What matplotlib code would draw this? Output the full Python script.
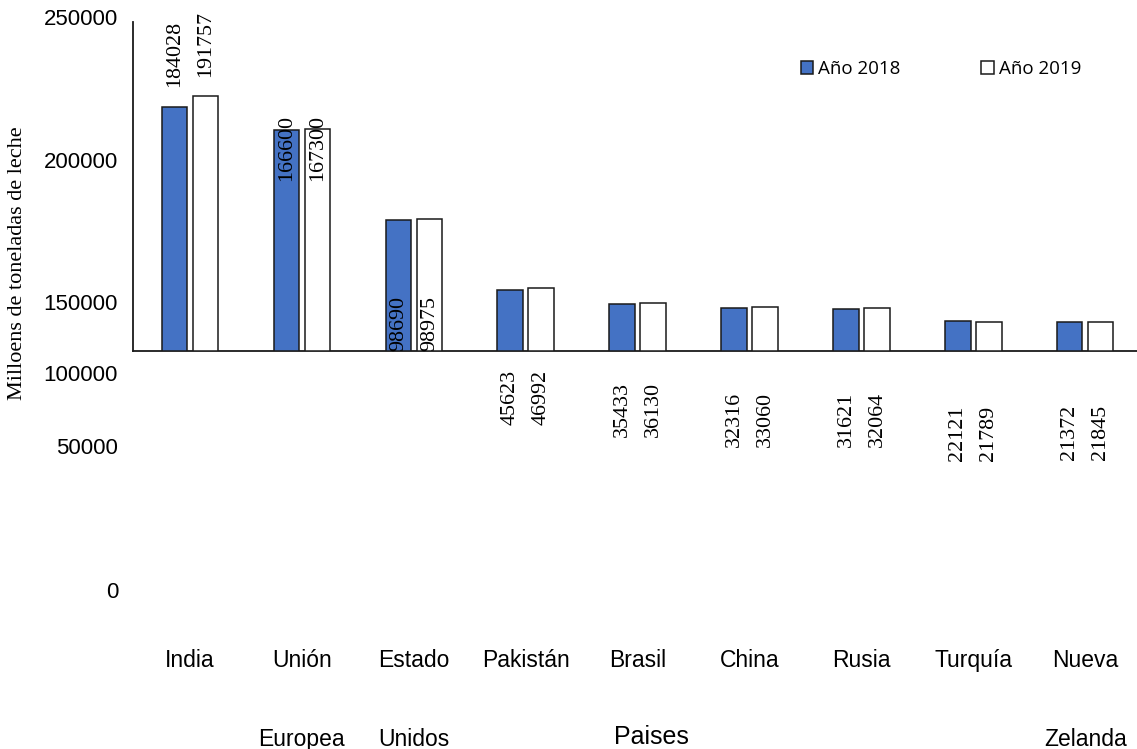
import numpy as np
import matplotlib.pyplot as plt

# Producción de leche por país (datos 2018 y 2019)
paises = ['India', 'Unión\nEuropea', 'Estado\nUnidos', 'Pakistán', 'Brasil',
          'China', 'Rusia', 'Turquía', 'Nueva\nZelanda']
anio_2018 = [184028, 166600, 98690, 45623, 35433, 32316, 31621, 22121, 21372]
anio_2019 = [191757, 167300, 98975, 46992, 36130, 33060, 32064, 21789, 21845]

# etiquetas del eje y y su ubicación vertical (en unidades de datos)
ytick_text = ['250000', '200000', '150000', '100000', '50000', '0']
ytick_pos = [249800, 141500, 35000, -18500, -73800, -182500]

# anclaje vertical de las etiquetas de valor por país: (y, alineación)
label_anchor = [(None, 'bottom'), (177700, 'top'), (0, 'bottom'),
                (-56000, 'bottom'), (-65000, 'bottom'), (-72600, 'bottom'),
                (-72600, 'bottom'), (-83200, 'bottom'), (-82500, 'bottom')]

x = np.arange(len(paises))
w = 0.228
off = 0.1385

fig = plt.figure(figsize=(11.37, 7.49), dpi=100)
ax = fig.add_axes([133.3 / 1137, 1 - 350.7 / 749, 1 - 133.3 / 1137, 329 / 749])

ax.bar(x - off, anio_2018, w, color='#4472C4', edgecolor='#1a1a1a',
       linewidth=1.1, label='Año 2018', zorder=3)
ax.bar(x + off, anio_2019, w, color='white', edgecolor='#1a1a1a',
       linewidth=1.1, label='Año 2019', zorder=3)

ax.set_xlim(-0.507, 8.463)
ax.set_ylim(0, 248000)

# etiquetas de valor, giradas
for i, (yv, va) in enumerate(label_anchor):
    for xpos, val in ((x[i] - off, anio_2018[i]), (x[i] + off, anio_2019[i])):
        ypos = val + 14700 if yv is None else yv
        ax.text(xpos, ypos, str(val), rotation=90, ha='center', va=va,
                fontsize=15.8, family='Liberation Serif', zorder=4)

# eje y con etiquetas propias
ax.set_yticks([])
for t, yp in zip(ytick_text, ytick_pos):
    ax.text(-0.0152, yp, t, transform=ax.get_yaxis_transform(), ha='right',
            va='center', fontsize=16, family='Liberation Sans')

ax.text(-0.115, 0.267, 'Milloens de toneladas de leche', transform=ax.transAxes,
        rotation=90, ha='center', va='center', fontsize=16,
        family='Liberation Serif')

# eje x
ax.set_xticks(x)
ax.set_xticklabels(paises, fontsize=16.5, family='Liberation Sans',
                   linespacing=4.1, va='top')
ax.tick_params(axis='x', length=0, pad=215)
ax.set_xlabel('Paises', fontsize=18, family='Liberation Sans', va='center')
ax.xaxis.set_label_coords(0.516, -1.175)

for s in ('top', 'right'):
    ax.spines[s].set_visible(False)
for s in ('left', 'bottom'):
    ax.spines[s].set_linewidth(1.3)
    ax.spines[s].set_color('#1a1a1a')

ax.legend(loc='center', bbox_to_anchor=(941 / 1137, 1 - 69 / 749),
          bbox_transform=fig.transFigure, ncol=2, frameon=False,
          prop={'family': 'Open Sans', 'size': 13.5},
          handlelength=0.65, handleheight=0.65, handletextpad=0.3,
          columnspacing=4.3)

fig.savefig('out.png', dpi=100)
